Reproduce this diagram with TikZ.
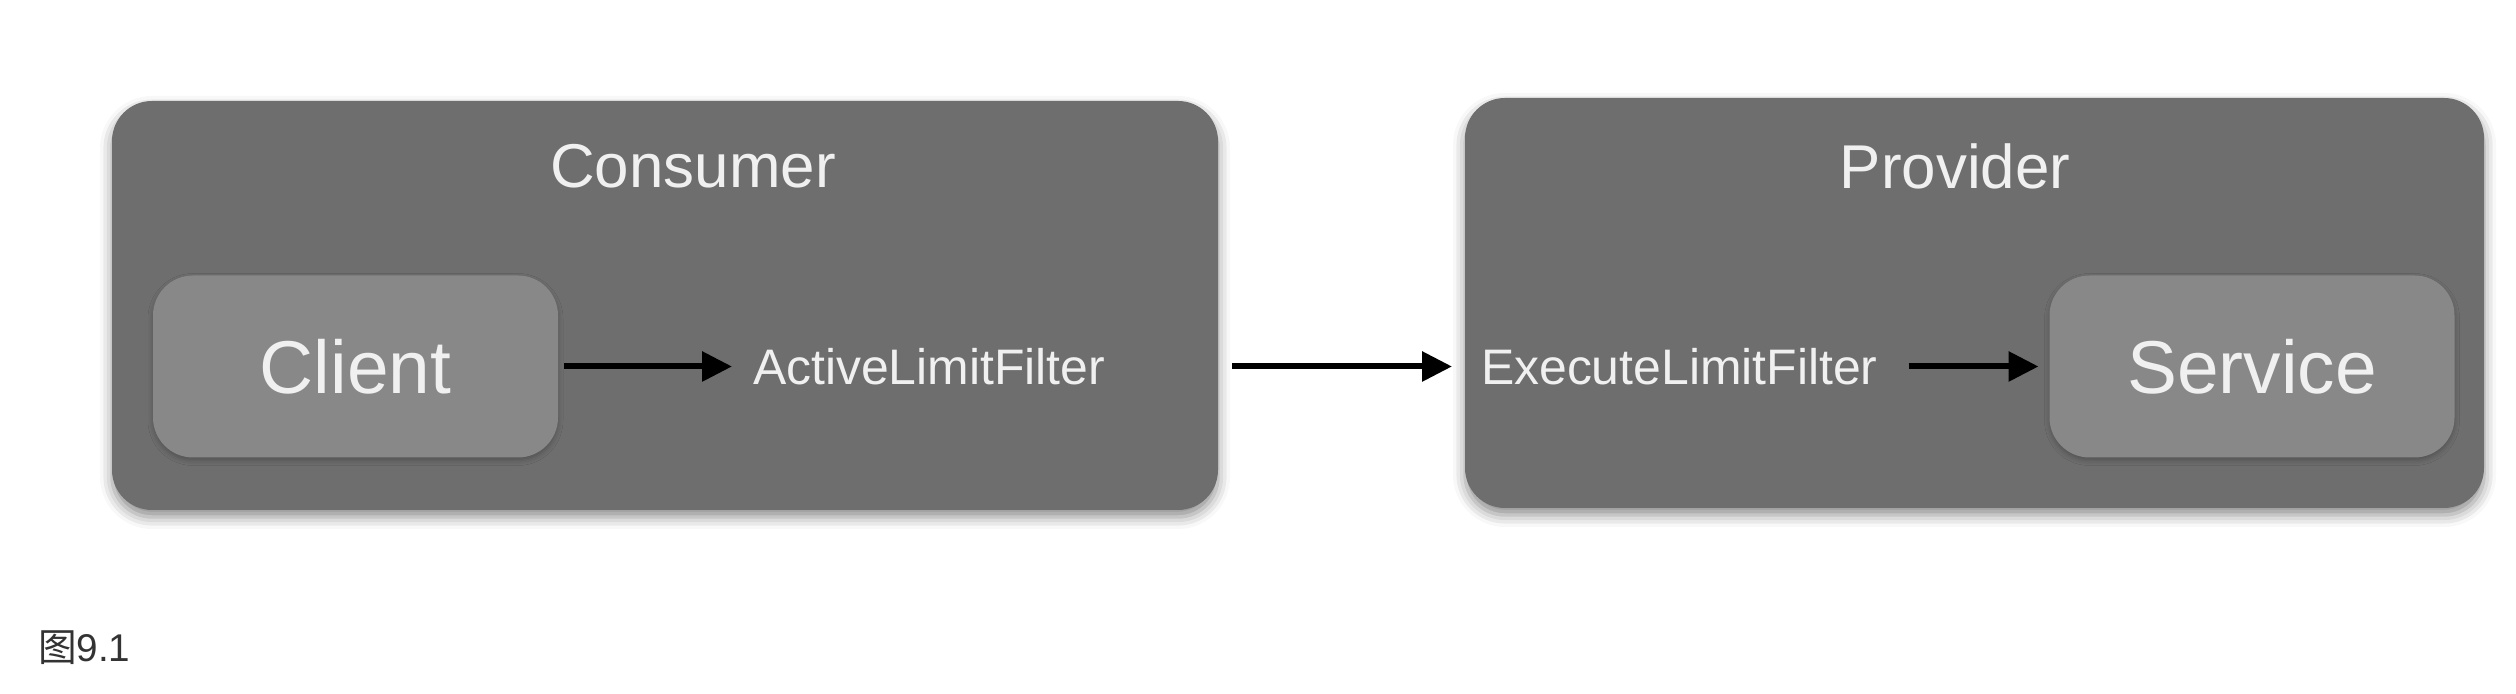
\documentclass[tikz,border=0pt]{standalone}
\usepackage{fontspec}
\setmainfont{Liberation Sans}
\newfontfamily\cjk{Noto Sans CJK SC}
\usetikzlibrary{arrows.meta}
\usetikzlibrary{positioning}
\usetikzlibrary{shadows.blur}
\definecolor{dgrey}{RGB}{110,110,110}
\definecolor{mgrey}{RGB}{136,136,136}
\definecolor{tgrey}{RGB}{240,240,240}
\definecolor{cgrey}{RGB}{51,51,51}

\begin{document}
\begin{tikzpicture}[->,>={Triangle[length=0.30cm,width=0.29cm]},line width=0.06cm]
      \tikzstyle{every node}=[inner sep=0pt]
      \tikzstyle{outer}=[fill=dgrey,rounded corners=0.4cm,blur shadow={shadow xshift=0pt,shadow yshift=-0.07cm,shadow blur radius=0.12cm,shadow opacity=45}]
      \tikzstyle{inner}=[fill=mgrey,rounded corners=0.4cm,text=tgrey,minimum width=4.05cm,minimum height=1.82cm,font=\fontsize{21.3}{24}\selectfont,blur shadow={shadow xshift=0pt,shadow yshift=-0.03cm,shadow blur radius=0.05cm,shadow opacity=25}]
      \tikzstyle{title}=[text=tgrey,font=\fontsize{17.6}{20}\selectfont]
      \tikzstyle{filter}=[text=tgrey,font=\fontsize{14.2}{16}\selectfont]

      \useasboundingbox (0,0) rectangle (25.16,-6.94);

      \node[outer,minimum width=11.06cm,minimum height=4.09cm]	(consumer) at (6.65,-3.055) {};
      \node[outer,minimum width=10.19cm,minimum height=4.10cm]	(provider) at (19.745,-3.03) {};
      \node[title]	(consumerlbl) at (6.93,-1.66) {Consumer};
      \node[title]	(providerlbl) at (19.55,-1.66) {Provider};

      \node[inner]	(client) at (3.555,-3.665) {Client};
      \node[inner]	(service) at (22.52,-3.665) {Service};
      \node[filter,anchor=west]	(alf) [right=1.89cm of client.east] {ActiveLimitFilter};
      \node[filter,anchor=west]	(elf) at (14.78,-3.665) {ExecuteLimitFilter};

      \node[anchor=west,text=cgrey,font=\fontsize{11}{13}\selectfont]	(fig) at (0.35,-6.48) {{\cjk 图}9.1};

      \path
	(client) edge	[shorten <=0.03cm,shorten >=0.18cm]	(alf)
	(alf) edge	[shorten <=1.24cm,shorten >=0.26cm]	(elf)
	(elf) edge	[shorten <=0.28cm,shorten >=0.08cm]	(service);
  \end{tikzpicture}
\end{document}
